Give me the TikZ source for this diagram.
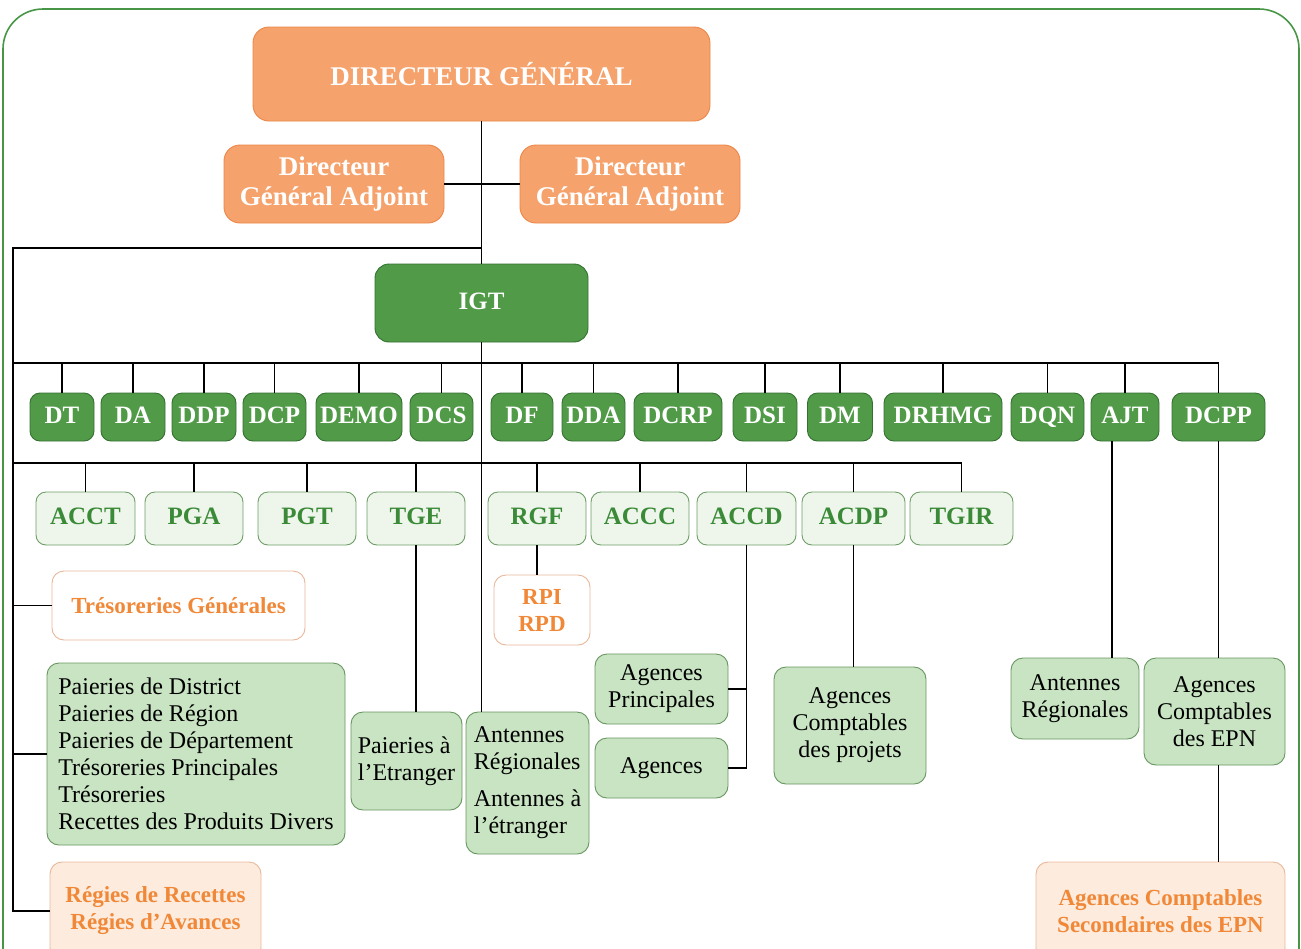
\documentclass[tikz,border=0pt]{standalone}
\usepackage{fontspec}
\setmainfont{Liberation Serif}
\usepackage{tikz}

\begin{document}
\begin{tikzpicture}[x=1pt, y=-1pt,
    box/.style={rectangle, rounded corners=10pt, draw, line width=0.9pt, inner sep=0pt, align=center},
    head_box/.style={box, rounded corners=16pt, draw=headline, fill=headfill, text=white, font=\bfseries\fontsize{27}{30}\selectfont},
    dir_box/.style={box, draw=dirline, fill=dirfill, text=white, minimum height=48pt, text height=17pt, text depth=5pt, font=\bfseries\fontsize{25}{28}\selectfont},
    sub_box/.style={box, draw=subline, fill=subfill, text=subtext, minimum height=53pt, text height=17pt, text depth=5pt, font=\bfseries\fontsize{25}{28}\selectfont},
    unit_box/.style={box, rounded corners=12pt, draw=unitline, fill=unitfill, text=black, font=\fontsize{24}{27}\selectfont},
    note_box/.style={box, rounded corners=12pt, draw=noteline, fill=white, text=notetext, font=\bfseries\fontsize{23}{27}\selectfont},
    soft_box/.style={note_box, fill=softfill},
    link/.style={draw=black, line width=1.2pt}]

    % Define colors
    \definecolor{headfill}{RGB}{245,162,108}
    \definecolor{headline}{RGB}{236,134,72}
    \definecolor{dirfill}{RGB}{80,154,72}
    \definecolor{dirline}{RGB}{52,112,48}
    \definecolor{subfill}{RGB}{238,246,235}
    \definecolor{subline}{RGB}{110,158,102}
    \definecolor{subtext}{RGB}{58,138,56}
    \definecolor{unitfill}{RGB}{200,228,194}
    \definecolor{unitline}{RGB}{104,150,96}
    \definecolor{noteline}{RGB}{233,183,154}
    \definecolor{notetext}{RGB}{240,136,56}
    \definecolor{softfill}{RGB}{253,235,221}
    \definecolor{framecolor}{RGB}{70,150,70}

    \useasboundingbox (0,0) rectangle (1301,948);

    % Frame
    \draw[framecolor, line width=1.6pt, rounded corners=40pt] (3,960) -- (3,9) -- (1299,9) -- (1299,960);

    % Top of the chart
    \node[head_box, minimum width=457pt, minimum height=94pt] (dg) at (481.5,74) {DIRECTEUR GÉNÉRAL};
    \node[head_box, minimum width=220pt, minimum height=78pt] (dgaL) at (334,184) {Directeur\\Général Adjoint};
    \node[head_box, minimum width=220pt, minimum height=78pt] (dgaR) at (630,184) {Directeur\\Général Adjoint};
    \node[dir_box, rounded corners=14pt, minimum width=213pt, minimum height=78pt] (igt) at (481.5,303) {IGT};

    % Directions
    \node[dir_box, minimum width=64pt] (dt) at (62,417) {DT};
    \node[dir_box, minimum width=64pt] (da) at (133,417) {DA};
    \node[dir_box, minimum width=64pt] (ddp) at (204,417) {DDP};
    \node[dir_box, minimum width=63pt] (dcp) at (274.5,417) {DCP};
    \node[dir_box, minimum width=86pt] (demo) at (359,417) {DEMO};
    \node[dir_box, minimum width=63pt] (dcs) at (441.5,417) {DCS};
    \node[dir_box, minimum width=62pt] (df) at (522,417) {DF};
    \node[dir_box, minimum width=63pt] (dda) at (593.5,417) {DDA};
    \node[dir_box, minimum width=88pt] (dcrp) at (678,417) {DCRP};
    \node[dir_box, minimum width=64pt] (dsi) at (765,417) {DSI};
    \node[dir_box, minimum width=65pt] (dm) at (840,417) {DM};
    \node[dir_box, minimum width=118pt] (drhmg) at (943,417) {DRHMG};
    \node[dir_box, minimum width=73pt] (dqn) at (1047.5,417) {DQN};
    \node[dir_box, minimum width=68pt] (ajt) at (1125,417) {AJT};
    \node[dir_box, minimum width=93pt] (dcpp) at (1218.5,417) {DCPP};

    % Second row
    \node[sub_box, minimum width=99pt] (acct) at (85.5,518.5) {ACCT};
    \node[sub_box, minimum width=98pt] (pga) at (194,518.5) {PGA};
    \node[sub_box, minimum width=98pt] (pgt) at (307,518.5) {PGT};
    \node[sub_box, minimum width=98pt] (tge) at (416,518.5) {TGE};
    \node[sub_box, minimum width=98pt] (rgf) at (537,518.5) {RGF};
    \node[sub_box, minimum width=98pt] (accc) at (640,518.5) {ACCC};
    \node[sub_box, minimum width=99pt] (accd) at (746.5,518.5) {ACCD};
    \node[sub_box, minimum width=103pt] (acdp) at (853.5,518.5) {ACDP};
    \node[sub_box, minimum width=103pt] (tgir) at (961.5,518.5) {TGIR};

    % Units
    \node[note_box, minimum width=253pt, minimum height=69pt] (tg) at (178.5,605.5) {Trésoreries Générales};
    \node[unit_box, align=left, minimum width=298pt, minimum height=182pt] (paieries) at (196,754)
        {Paieries de District\\Paieries de Région\\Paieries de Département\\Trésoreries Principales\\Trésoreries\\Recettes des Produits Divers};
    \node[soft_box, minimum width=211pt, minimum height=98pt] (regies) at (155.5,911) {Régies de Recettes\\Régies d’Avances};
    \node[unit_box, align=left, minimum width=111pt, minimum height=98pt] (petr) at (406.5,761) {Paieries à\\l’Etranger};
    \node[unit_box, align=left, minimum width=123pt, minimum height=142pt] (antR) at (527.5,783) {Antennes\\Régionales\\[10pt]Antennes à\\l’étranger};
    \node[note_box, minimum width=96pt, minimum height=70pt] (rpi) at (542,610) {RPI\\RPD};
    \node[unit_box, minimum width=133pt, minimum height=70pt] (agp) at (661.5,689) {Agences\\Principales};
    \node[unit_box, minimum width=133pt, minimum height=60pt] (ag) at (661.5,768) {Agences};
    \node[unit_box, minimum width=152pt, minimum height=117pt] (acp) at (850,725.5) {Agences\\Comptables\\des projets};
    \node[unit_box, minimum width=128pt, minimum height=81pt] (antR2) at (1075,698.5) {Antennes\\Régionales};
    \node[unit_box, minimum width=141pt, minimum height=107pt] (epn) at (1214.5,711.5) {Agences\\Comptables\\des EPN};
    \node[soft_box, minimum width=249pt, minimum height=98pt] (secEpn) at (1160.5,911) {Agences Comptables\\Secondaires des EPN};

    % Buses
    \coordinate (lbTop) at (13,248);
    \coordinate (bus1) at (13,363);
    \coordinate (bus2) at (13,463);

    % Lines
    \draw[link] (dg) -- (igt);
    \draw[link] (dgaL.east) -- (dgaR.west);
    \draw[link] (igt.north |- lbTop) -- (lbTop) -- (lbTop |- regies.west) -- (regies.west);
    \draw[link] (lbTop |- tg.west) -- (tg.west);
    \draw[link] (lbTop |- paieries.west) -- (paieries.west);
    \draw[link] (igt.south) -- (igt.south |- antR.north);

    \draw[link] (bus1) -- (bus1 -| dcpp.north);
    \foreach \n in {dt,da,ddp,dcp,demo,dcs,df,dda,dcrp,dsi,dm,drhmg,dqn,ajt,dcpp}
        \draw[link] (\n.north |- bus1) -- (\n.north);

    \draw[link] (bus2) -- (bus2 -| tgir.north);
    \foreach \n in {acct,pga,pgt,tge,rgf,accc,accd,acdp,tgir}
        \draw[link] (\n.north |- bus2) -- (\n.north);

    \draw[link] (tge.south) -- (tge.south |- petr.north);
    \draw[link] (rgf.south) -- (rgf.south |- rpi.north);
    \draw[link] (accd.south) -- (accd.south |- ag.east) -- (ag.east);
    \draw[link] (accd.south |- agp.east) -- (agp.east);
    \draw[link] (acdp.south) -- (acdp.south |- acp.north);
    \draw[link] ([xshift=-13pt]ajt.south) -- ([xshift=-13pt]ajt.south |- antR2.north);
    \draw[link] (dcpp.south) -- (dcpp.south |- epn.north);
    \draw[link] (epn.south -| dcpp.south) -- (secEpn.north -| dcpp.south);

\end{tikzpicture}
\end{document}
